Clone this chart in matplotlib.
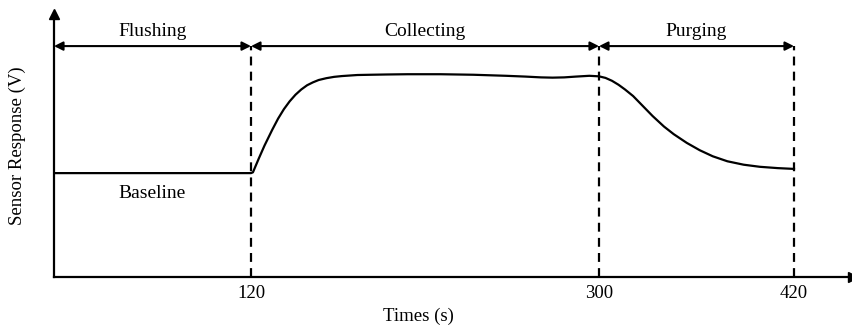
import numpy as np
import matplotlib
matplotlib.use("Agg")
import matplotlib.pyplot as plt

plt.rcParams['font.family'] = ['Liberation Serif', 'DejaVu Serif']

# ---- data (schematic) ----
time_s = [0, 60, 120, 121, 124, 127, 131, 134, 137, 140, 143, 146, 149, 152, 155, 159,
          163, 167, 171, 175, 182, 190, 201, 218, 235, 252, 262, 270, 276, 282, 288,
          295, 300, 304, 308, 312, 316, 321, 327, 333, 340, 346, 354, 362, 370, 379,
          389, 399, 410, 420]
response_v = [0.395, 0.395, 0.395, 0.398, 0.450, 0.500, 0.560, 0.602, 0.638, 0.668, 0.693,
              0.713, 0.729, 0.740, 0.749, 0.756, 0.761, 0.764, 0.766, 0.768, 0.769, 0.770,
              0.771, 0.771, 0.769, 0.765, 0.762, 0.759, 0.758, 0.759, 0.762, 0.765, 0.763,
              0.757, 0.746, 0.731, 0.713, 0.688, 0.650, 0.612, 0.572, 0.543, 0.510, 0.482,
              0.459, 0.440, 0.427, 0.419, 0.414, 0.411]
phase_bounds = [0, 120, 300, 420]
phase_names = ["Flushing", "Collecting", "Purging"]
tick_values = [120, 300, 420]
tick_labels = ["120", "300", "420"]
baseline_label = "Baseline"

# schematic (non-uniform) time axis: knots mapping time -> drawing position
knot_t = [0, 120, 300, 420, 456]
knot_p = [54, 251, 599, 794, 853]

def fwd(t):
    return np.interp(t, knot_t, knot_p)

def inv(p):
    return np.interp(p, knot_p, knot_t)

fig = plt.figure(figsize=(8.53, 3.29), dpi=100)
ax = fig.add_axes([54/853, (329-277)/329, (853-54)/853, (277-14)/329])
ax.set_xscale('function', functions=(fwd, inv))
ax.set_xlim(0, 456)
ax.set_ylim(0, 1.0)

for s in ['top', 'right']:
    ax.spines[s].set_visible(False)
for s in ['left', 'bottom']:
    ax.spines[s].set_linewidth(1.6)

# axis arrow heads
ax.plot(0, 1, marker='^', color='k', ms=7, transform=ax.transAxes, clip_on=False)
ax.plot(1, 0, marker='>', color='k', ms=7, transform=ax.transAxes, clip_on=False)

# curve
ax.plot(time_s, response_v, color='k', lw=1.6, solid_joinstyle='round')

# dashed phase boundaries
arrow_y = 0.878
for b in phase_bounds[1:]:
    ax.plot([b, b], [0, arrow_y], color='k', lw=1.6, dashes=(4, 2.8))

# double-headed arrows and phase labels
for i, name in enumerate(phase_names):
    a, b = phase_bounds[i], phase_bounds[i + 1]
    ax.annotate('', xy=(b, arrow_y), xytext=(a, arrow_y),
                arrowprops=dict(arrowstyle='<|-|>', color='k', lw=1.5,
                                mutation_scale=13, shrinkA=0, shrinkB=0))
    mid = inv((fwd(a) + fwd(b)) / 2)
    ax.text(mid, 0.918, name, ha='center', va='baseline', fontsize=14)

ax.text(60, 0.319, baseline_label, ha='center', va='center', fontsize=14)

ax.set_xticks(tick_values)
ax.set_xticklabels(tick_labels, fontsize=13.5)
ax.set_yticks([])
ax.tick_params(axis='x', length=0, pad=6)
ax.minorticks_off()

ax.set_xlabel("Times (s)", fontsize=13.5)
ax.xaxis.set_label_coords(0.456, -0.115)
ax.set_ylabel("Sensor Response (V)", fontsize=13.5)
ax.yaxis.set_label_coords(-0.035, 0.5)

fig.savefig("out.png", dpi=100)
